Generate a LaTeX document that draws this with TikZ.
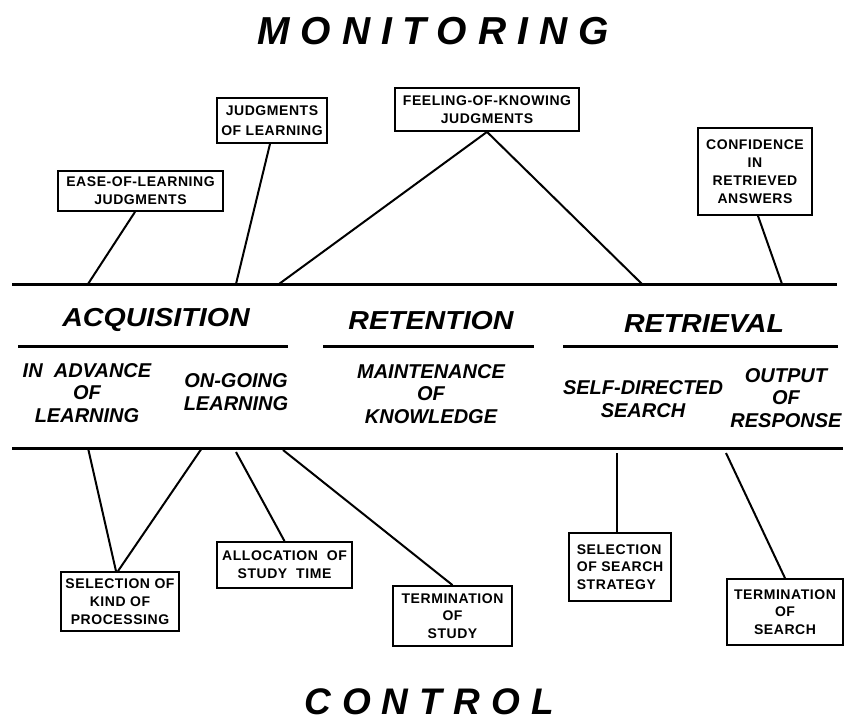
\documentclass[tikz,border=0pt]{standalone}
\usepackage{fontspec}
\setmainfont{Liberation Sans}
\newfontfamily\titlefont[LetterSpace=28]{Liberation Sans}
\newfontfamily\ctrlfont[LetterSpace=30]{Liberation Sans}
\newfontfamily\headfont[FakeStretch=1.1]{Liberation Sans}
\newfontfamily\subfont{Liberation Sans}
\newfontfamily\boxfont[LetterSpace=4]{Liberation Sans}
\tikzset{
  mainline/.style={line width=3pt},
  link/.style={line width=2pt},
  box/.style={draw, line width=1.8pt, inner sep=0pt, align=center,
    font=\boxfont\bfseries\fontsize{14}{17.8}\selectfont},
  head/.style={inner sep=0pt, font=\headfont\bfseries\itshape\fontsize{26}{26}\selectfont},
  sub/.style={inner sep=0pt, align=center, font=\subfont\bfseries\itshape\fontsize{20}{22.8}\selectfont},
}
\begin{document}
\begin{tikzpicture}[x=1pt, y=-1pt]
\useasboundingbox (0,0) rectangle (844,721);

% titles
\node[inner sep=0pt, font=\titlefont\bfseries\itshape\fontsize{39}{39}\selectfont] (mon) at (433,31) {MONITORING};
\node[inner sep=0pt, font=\ctrlfont\bfseries\itshape\fontsize{37}{37}\selectfont] (ctl) at (429,701.5) {CONTROL};

% the two main axes and the section underlines
\coordinate (tl) at (12,284);  \coordinate (tr) at (837,284);
\coordinate (bl) at (12,448);  \coordinate (br) at (843,448);
\draw[mainline] (tl) -- (tr);
\draw[mainline] (bl) -- (br);
\coordinate (u1a) at (18,346);  \coordinate (u1b) at (288,346);
\coordinate (u2a) at (323,346); \coordinate (u2b) at (534,346);
\coordinate (u3a) at (563,346); \coordinate (u3b) at (838,346);
\draw[mainline] (u1a) -- (u1b);
\draw[mainline] (u2a) -- (u2b);
\draw[mainline] (u3a) -- (u3b);

% stage headings
\node[head] (acq) at (156,320) {ACQUISITION};
\node[head] (ret) at (431,321) {RETENTION};
\node[head] (rtv) at (704,324) {RETRIEVAL};

% sub-stages
\node[sub] (adv) at (87,393) {IN\ \ ADVANCE\\OF\\LEARNING};
\node[sub] (ongo) at (236,392) {ON-GOING\\LEARNING};
\node[sub] (maint) at (431,394) {MAINTENANCE\\OF\\KNOWLEDGE};
\node[sub] (sds) at (643,399) {SELF-DIRECTED\\SEARCH};
\node[sub] (out) at (786,398) {OUTPUT\\OF\\RESPONSE};

% monitoring boxes
\node[box, minimum width=165pt, minimum height=40pt] (ease) at (140.5,191) {EASE-OF-LEARNING\\JUDGMENTS};
\node[box, minimum width=110pt, minimum height=45pt,
  font=\boxfont\bfseries\fontsize{14}{20.5}\selectfont] (jol) at (272,120.5) {JUDGMENTS\\OF LEARNING};
\node[box, minimum width=184pt, minimum height=43pt] (fok) at (487,109.5) {FEELING-OF-KNOWING\\JUDGMENTS};
\node[box, minimum width=114pt, minimum height=87pt] (conf) at (755,171.5) {CONFIDENCE\\IN\\RETRIEVED\\ANSWERS};

% control boxes
\node[box, minimum width=118pt, minimum height=59pt] (selk) at (120,601.5) {SELECTION OF\\KIND OF\\PROCESSING};
\node[box, minimum width=135pt, minimum height=46pt] (alloc) at (284.5,565) {ALLOCATION\ \ OF\\STUDY\ \ TIME};
\node[box, minimum width=119pt, minimum height=60pt] (tstud) at (452.5,616) {TERMINATION\\OF\\STUDY};
\node[box, minimum width=102pt, minimum height=68pt, align=left] (sels) at (620,567) {SELECTION\\OF SEARCH\\STRATEGY};
\node[box, minimum width=116pt, minimum height=66pt] (tsear) at (785,612) {TERMINATION\\OF\\SEARCH};

% attachment points on the axes
\coordinate (m1) at (88,284);
\coordinate (m2) at (236,284);
\coordinate (m3) at (279,284);
\coordinate (m4) at (642,284);
\coordinate (m5) at (782,284);
\coordinate (c1) at (88,448);
\coordinate (c2) at (202,448);
\coordinate (c3) at (236,452);
\coordinate (c4) at (283,450);
\coordinate (c5) at (617,453);
\coordinate (c6) at (726,453);

% monitoring connectors
\draw[link] ([xshift=-5.5pt]ease.south) -- (m1);
\draw[link] ([xshift=-2pt]jol.south) -- (m2);
\draw[link] (m3) -- (fok.south) -- (m4);
\draw[link] ([xshift=3pt]conf.south) -- (m5);

% control connectors
\draw[link] (c1) -- ([xshift=-4pt]selk.north);
\draw[link] (c2) -- ([xshift=-2pt]selk.north);
\draw[link] (c3) -- (alloc.north);
\draw[link] (c4) -- (tstud.north);
\draw[link] (c5) -- ([xshift=-3pt]sels.north);
\draw[link] (c6) -- (tsear.north);
\end{tikzpicture}
\end{document}
